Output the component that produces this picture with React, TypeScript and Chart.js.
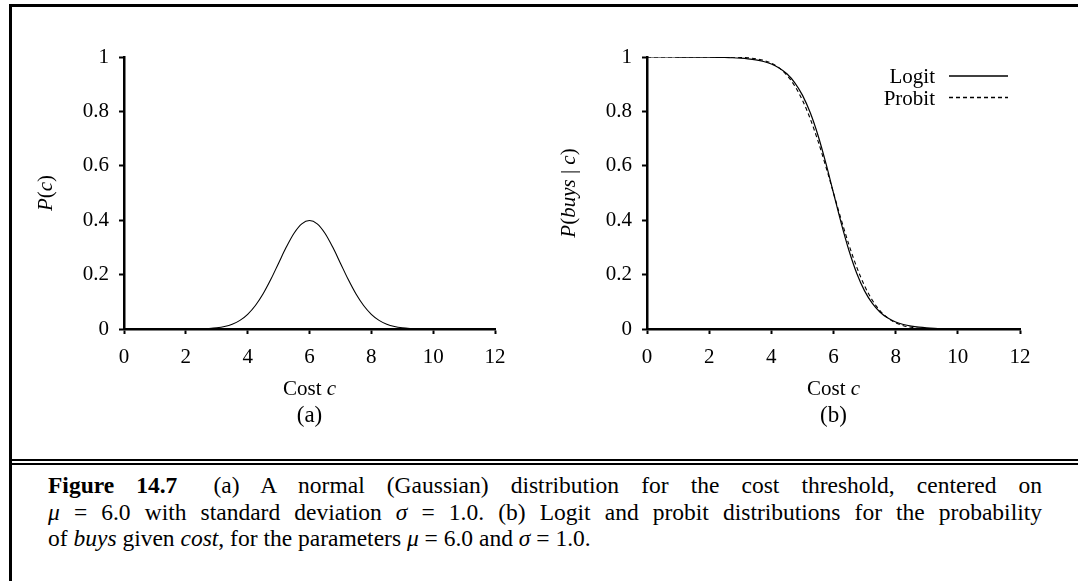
import React, { useEffect, useRef } from 'react';
import { Chart, registerables } from 'chart.js';

Chart.register(...registerables);

const FONT = '"Liberation Serif", "Times New Roman", serif';

// Cost values (x) shared by all curves
const costs = [
  0, 0.25, 0.5, 0.75, 1, 1.25, 1.5, 1.75, 2, 2.25, 2.5, 2.75, 3, 3.25, 3.5, 3.75,
  4, 4.25, 4.5, 4.75, 5, 5.25, 5.5, 5.75, 6, 6.25, 6.5, 6.75, 7, 7.25, 7.5, 7.75,
  8, 8.25, 8.5, 8.75, 9, 9.25, 9.5, 9.75, 10, 10.25, 10.5, 10.75, 11, 11.25, 11.5, 11.75, 12,
];

// (a) P(c)
const normalDensity = [
  0, 0, 0, 0, 0, 0, 0, 0, 0.0001, 0.0004, 0.0009, 0.002, 0.0044, 0.0091, 0.0175, 0.0317,
  0.054, 0.0863, 0.1295, 0.1826, 0.242, 0.3011, 0.3521, 0.3867, 0.3989, 0.3867, 0.3521, 0.3011, 0.242, 0.1826, 0.1295, 0.0863,
  0.054, 0.0317, 0.0175, 0.0091, 0.0044, 0.002, 0.0009, 0.0004, 0.0001, 0, 0, 0, 0, 0, 0, 0, 0,
];

// (b) P(buys | c)
const logitValues = [
  0.99998, 0.99997, 0.99995, 0.99993, 0.99989, 0.99982, 0.99971, 0.99955, 0.99929, 0.99889, 0.99825, 0.99725, 0.99568, 0.99323, 0.98938, 0.98339,
  0.97412, 0.95984, 0.93825, 0.90612, 0.85985, 0.7958, 0.71241, 0.61147, 0.5, 0.38853, 0.28759, 0.2042, 0.14015, 0.09388, 0.06175, 0.04016,
  0.02588, 0.01661, 0.01062, 0.00677, 0.00432, 0.00275, 0.00175, 0.00111, 0.00071, 0.00045, 0.00029, 0.00018, 0.00011, 0.00007, 0.00005, 0.00003, 0.00002,
];
const probitValues = [
  1, 1, 1, 1, 1, 1, 1, 1, 1, 0.99991, 0.99977, 0.99942, 0.99865, 0.99702, 0.99379, 0.98778,
  0.97725, 0.95994, 0.93319, 0.89435, 0.84134, 0.77337, 0.69146, 0.59871, 0.5, 0.40129, 0.30854, 0.22663, 0.15866, 0.10565, 0.06681, 0.04006,
  0.02275, 0.01222, 0.00621, 0.00298, 0.00135, 0.00058, 0.00023, 0.00009, 0.00003, 0, 0, 0, 0, 0, 0, 0, 0,
];

const xTicks = [0, 2, 4, 6, 8, 10, 12];
const yTicks = [0, 0.2, 0.4, 0.6, 0.8, 1];
const yTickLabels = ['0', '0.2', '0.4', '0.6', '0.8', '1'];

type Run = { t: string; i?: boolean };

function drawRuns(ctx: CanvasRenderingContext2D, runs: Run[], cx: number, baseline: number, size: number) {
  const fontOf = (r: Run) => `${r.i ? 'italic ' : ''}${size}px ${FONT}`;
  let total = 0;
  for (const r of runs) {
    ctx.font = fontOf(r);
    total += ctx.measureText(r.t).width;
  }
  let x = cx - total / 2;
  ctx.textAlign = 'left';
  ctx.textBaseline = 'alphabetic';
  for (const r of runs) {
    ctx.font = fontOf(r);
    ctx.fillText(r.t, x, baseline);
    x += ctx.measureText(r.t).width;
  }
}

const annotatePlugin = {
  id: 'annotate',
  afterDraw(chart: any, _args: any, opts: any) {
    const ctx: CanvasRenderingContext2D = chart.ctx;
    const a = chart.chartArea;
    ctx.save();
    ctx.fillStyle = '#000';
    const cx = (a.left + a.right) / 2;
    drawRuns(ctx, [{ t: 'Cost ' }, { t: 'c', i: true }], cx, a.bottom + 66, 21);
    drawRuns(ctx, [{ t: opts.label }], cx, a.bottom + 93, 23);
    ctx.save();
    ctx.translate(a.left - 72, (a.top + a.bottom) / 2);
    ctx.rotate(-Math.PI / 2);
    drawRuns(ctx, opts.yTitle, 0, 0, 21);
    ctx.restore();
    if (opts.legend) {
      const lx = a.left + 288;
      chart.data.datasets.forEach((ds: any, k: number) => {
        const y = a.top + 19 + k * 21.5;
        ctx.font = `21px ${FONT}`;
        ctx.textAlign = 'right';
        ctx.textBaseline = 'alphabetic';
        ctx.fillText(ds.label, lx, y + 7);
        ctx.beginPath();
        ctx.setLineDash(ds.borderDash || []);
        ctx.lineWidth = 1.3;
        ctx.strokeStyle = '#000';
        ctx.moveTo(lx + 14, y);
        ctx.lineTo(lx + 73, y);
        ctx.stroke();
      });
    }
    ctx.restore();
  },
};

type PanelProps = {
  left: number;
  width: number;
  axisLeft: number;
  axisRight: number;
  datasets: any[];
  yTitle: Run[];
  label: string;
  legend: boolean;
};

function Panel({ left, width, axisLeft, axisRight, datasets, yTitle, label, legend }: PanelProps) {
  const ref = useRef<HTMLCanvasElement>(null);
  useEffect(() => {
    const tickFont = { family: FONT, size: 21 };
    const chart = new Chart(ref.current as HTMLCanvasElement, {
      type: 'line',
      data: { datasets },
      plugins: [annotatePlugin],
      options: {
        animation: false,
        responsive: false,
        events: [],
        layout: { padding: { left: 0, top: 57, right: width - axisRight, bottom: 0 } },
        plugins: {
          legend: { display: false },
          tooltip: { enabled: false },
          annotate: { label, yTitle, legend },
        } as any,
        elements: { point: { radius: 0 } },
        scales: {
          x: {
            type: 'linear',
            min: 0,
            max: 12,
            afterBuildTicks: (s: any) => {
              s.ticks = xTicks.map((v) => ({ value: v }));
            },
            afterFit: (s: any) => {
              s.height = 111;
            },
            ticks: { color: '#000', font: tickFont, padding: 11, maxRotation: 0, autoSkip: false },
            grid: { drawOnChartArea: false, drawTicks: true, tickLength: 5, tickWidth: 2, tickColor: '#000', color: '#000' },
            border: { display: true, color: '#000', width: 2.5 },
          },
          y: {
            type: 'linear',
            min: 0,
            max: 1,
            afterBuildTicks: (s: any) => {
              s.ticks = yTicks.map((v) => ({ value: v }));
            },
            afterFit: (s: any) => {
              s.width = axisLeft;
            },
            ticks: {
              color: '#000',
              font: tickFont,
              padding: 10,
              autoSkip: false,
              callback: (_v: any, i: number) => yTickLabels[i],
            },
            grid: { drawOnChartArea: false, drawTicks: true, tickLength: 5, tickWidth: 2, tickColor: '#000', color: '#000' },
            border: { display: true, color: '#000', width: 2.5 },
          },
        },
      } as any,
    });
    return () => chart.destroy();
  }, []);
  return (
    <canvas
      ref={ref}
      width={width}
      height={440}
      style={{ position: 'absolute', left, top: 0, width, height: 440 }}
    />
  );
}

const pointsOf = (ys: number[]) => costs.map((x, i) => ({ x, y: ys[i] }));

export default function App() {
  const leftSets = [
    {
      label: 'P(c)',
      data: pointsOf(normalDensity),
      borderColor: '#000',
      borderWidth: 1.1,
      cubicInterpolationMode: 'monotone',
      fill: false,
    },
  ];
  const rightSets = [
    {
      label: 'Logit',
      data: pointsOf(logitValues),
      borderColor: '#000',
      borderWidth: 1.2,
      cubicInterpolationMode: 'monotone',
      fill: false,
    },
    {
      label: 'Probit',
      data: pointsOf(probitValues),
      borderColor: '#000',
      borderWidth: 1.1,
      borderDash: [4, 3],
      cubicInterpolationMode: 'monotone',
      fill: false,
    },
  ];
  const math: React.CSSProperties = { fontStyle: 'italic' };
  const lineStyle: React.CSSProperties = {
    display: 'block',
    textAlign: 'justify',
    textAlignLast: 'justify' as any,
    whiteSpace: 'nowrap' as any,
  };
  return (
    <div
      style={{
        position: 'absolute',
        left: 0,
        top: 0,
        width: 1078,
        height: 581,
        overflow: 'hidden',
        background: '#fff',
        fontFamily: FONT,
        color: '#000',
      }}
    >
      <Panel
        left={0}
        width={540}
        axisLeft={124}
        axisRight={495}
        datasets={leftSets}
        yTitle={[{ t: 'P', i: true }, { t: '(' }, { t: 'c', i: true }, { t: ')' }]}
        label="(a)"
        legend={false}
      />
      <Panel
        left={540}
        width={538}
        axisLeft={107}
        axisRight={480}
        datasets={rightSets}
        yTitle={[
          { t: 'P', i: true },
          { t: '(' },
          { t: 'buys', i: true },
          { t: ' | ' },
          { t: 'c', i: true },
          { t: ')' },
        ]}
        label="(b)"
        legend={true}
      />
      {/* frame */}
      <div style={{ position: 'absolute', left: 9, top: 4, width: 1080, height: 2.5, background: '#000' }} />
      <div style={{ position: 'absolute', left: 9, top: 4, width: 2.5, height: 600, background: '#000' }} />
      <div style={{ position: 'absolute', left: 9, top: 459, width: 1080, height: 2, background: '#000' }} />
      <div style={{ position: 'absolute', left: 9, top: 463, width: 1080, height: 2, background: '#000' }} />
      {/* caption */}
      <div
        style={{
          position: 'absolute',
          left: 48,
          top: 472,
          width: 994,
          fontSize: 23.5,
          lineHeight: '26.5px',
        }}
      >
        <span style={lineStyle}>
          <b>Figure 14.7</b>
          <span style={{ display: 'inline-block', width: 14 }} /> (a) A normal (Gaussian) distribution for the cost threshold, centered on
        </span>
        <span style={lineStyle}>
          <i style={math}>μ</i> = 6.0 with standard deviation <i style={math}>σ</i> = 1.0. (b) Logit and probit distributions for the probability
        </span>
        <span style={{ display: 'block', whiteSpace: 'nowrap' }}>
          of <i style={math}>buys</i> given <i style={math}>cost</i>, for the parameters <i style={math}>μ</i> = 6.0 and{' '}
          <i style={math}>σ</i> = 1.0.
        </span>
      </div>
    </div>
  );
}
